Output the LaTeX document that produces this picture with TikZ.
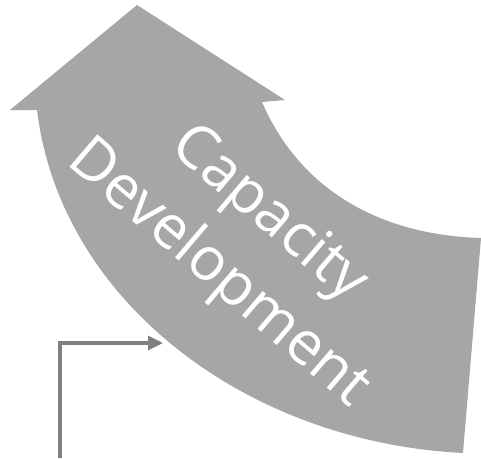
\documentclass[tikz,border=0pt]{standalone}
\usepackage{fontspec}
\setmainfont{Open Sans}
\usetikzlibrary{arrows.meta}
\definecolor{bandgray}{HTML}{A6A6A6}
\definecolor{feedgray}{HTML}{808080}

\begin{document}
\begin{tikzpicture}[
  x=1pt, y=-1pt,
  band/.style={fill=bandgray, draw=none},
  feed/.style={draw=feedgray, line width=3.3pt, -{Triangle[length=15pt,width=14pt]}},
  lbl/.style={text=white, font=\fontsize{60}{78}\selectfont, align=center, rotate=-40.5, inner sep=0pt},
]
\useasboundingbox (0,0) rectangle (481,458);
% curved band with its head
\fill[band] (37,110) -- (10,110) -- (137,5) -- (285,100) -- (262,102)
  .. controls (300,190) and (380,235) .. (481,238)
  -- (463,453)
  .. controls (245,442) and (60,300) .. (37,110) -- cycle;
\node[lbl] (cd) at (243,245) {Capacity\\Development};
% feed line into the band
\coordinate (src) at (60,458);
\coordinate (hit) at (163,343);
\draw[feed] (src) |- (hit);
\end{tikzpicture}
\end{document}
